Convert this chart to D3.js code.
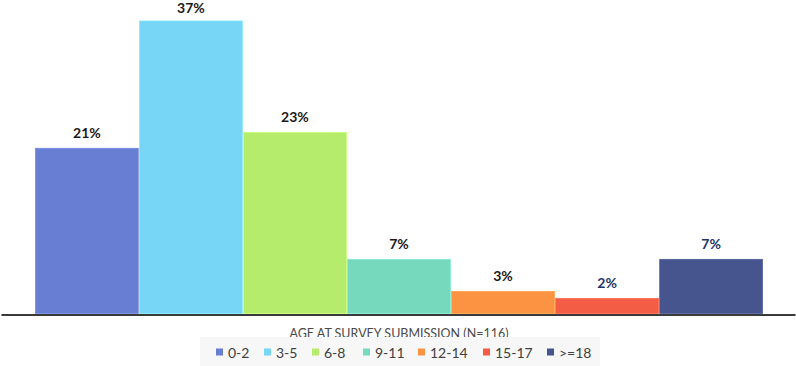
<!DOCTYPE html>
<html><head><meta charset="utf-8">
<script src="https://cdn.jsdelivr.net/npm/d3@7"></script>
<style>html,body{margin:0;padding:0;background:#fff;}svg{display:block;}</style>
</head><body>
<svg id="chart" width="796" height="366"></svg>
<script>
const categories = ["0-2","3-5","6-8","9-11","12-14","15-17",">=18"];
const values = [20.9, 37.0, 22.9, 6.85, 2.8, 1.9, 6.85];
const labels = ["21%","37%","23%","7%","3%","2%","7%"];
const colors = ["#677ed3","#77d5f5","#b5ec6b","#76d8bc","#fb9343","#f45d45","#47558f"];
const labelColors = ["#1a1a1a","#1a1a1a","#1a1a1a","#1a1a1a","#1a1a1a","#22336b","#22336b"];
const title = "AGE AT SURVEY SUBMISSION (N=116)";

const svg = d3.select("#chart");
const font = "Lato, 'Open Sans', sans-serif";
const baseY = 313.5;
const x = d3.scaleBand().domain(categories).range([35.5, 762.5]).paddingInner(0.012);
const y = d3.scaleLinear().domain([0, 37]).range([baseY, 21]);

svg.selectAll("rect.bar").data(categories).join("rect")
  .attr("class","bar")
  .attr("x", d => x(d))
  .attr("width", x.bandwidth())
  .attr("y", (d,i) => y(values[i]))
  .attr("height", (d,i) => baseY - y(values[i]))
  .attr("fill", (d,i) => colors[i])
  .attr("stroke", (d,i) => d3.color(colors[i]).brighter(0.25))
  .attr("stroke-width", 0.8);

svg.selectAll("text.lbl").data(categories).join("text")
  .attr("class","lbl")
  .attr("x", d => x(d) + x.bandwidth()/2)
  .attr("y", (d,i) => Math.max(12.5, y(values[i]) - 10.5))
  .attr("text-anchor","middle")
  .attr("font-family", font)
  .attr("font-weight", "bold")
  .attr("font-size", 14)
  .attr("fill", (d,i) => labelColors[i])
  .text((d,i) => labels[i]);

// baseline axis
const axis = d3.axisBottom(d3.scaleLinear().range([1, 795])).ticks(0).tickSize(0).tickFormat("");
svg.append("g").attr("transform", `translate(0,${baseY + 1})`).call(axis)
  .call(g => g.select(".domain").attr("stroke","#3a3a3a").attr("stroke-width",2));

// title
svg.append("text")
  .attr("x", 399).attr("y", 338)
  .attr("text-anchor","middle")
  .attr("font-family", font)
  .attr("font-size", 12.5)
  .attr("fill", "#4a4a4a")
  .text(title);

// legend
svg.append("rect").attr("x", 200).attr("y", 337).attr("width", 400).attr("height", 29).attr("fill", "#f7f7f7");
const legendX = [216, 264, 312, 363, 418, 483, 547];
const lg = svg.selectAll("g.leg").data(categories).join("g").attr("class","leg")
  .attr("transform", (d,i) => `translate(${legendX[i]},0)`);
lg.append("rect").attr("x",0).attr("y",348.5).attr("width",7).attr("height",7)
  .attr("fill", (d,i) => colors[i]);
lg.append("text").attr("x", 12).attr("y", 358)
  .attr("font-family", font).attr("font-size", 14).attr("fill", "#404040")
  .text(d => d);
</script>
</body></html>
